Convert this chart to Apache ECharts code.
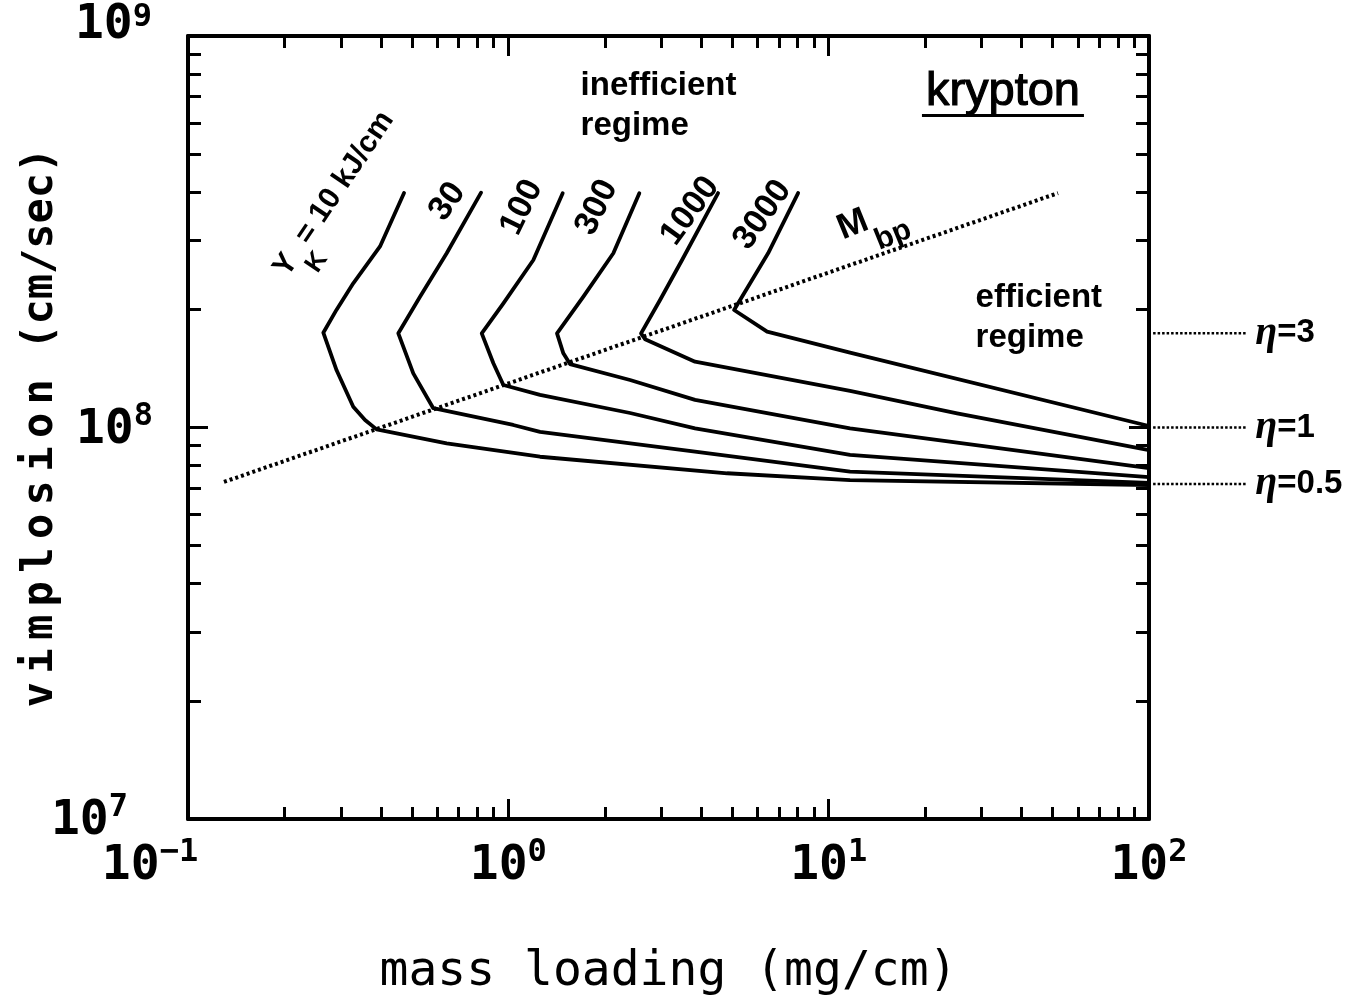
<!DOCTYPE html>
<html>
<head>
<meta charset="utf-8">
<script src="https://cdn.jsdelivr.net/npm/echarts@6/dist/echarts.min.js"></script>
<style>html,body{margin:0;padding:0;background:#fff}#c{width:1364px;height:997px}</style>
</head>
<body>
<div id="c"></div>
<script>
// ---------- data ----------
const xMajorTicks = [0.1, 1, 10, 100];
const xMinorTicks = [0.2,0.3,0.4,0.5,0.6,0.7,0.8,0.9,2,3,4,5,6,7,8,9,20,30,40,50,60,70,80,90];
const yMajorTicks = [1e7, 1e8, 1e9];
const yMinorTicks = [2e7,3e7,4e7,5e7,6e7,7e7,8e7,9e7,2e8,3e8,4e8,5e8,6e8,7e8,8e8,9e8];

const curveNames = ['10', '30', '100', '300', '1000', '3000'];
const curve10 = [[0.4725,3.97e8],[0.3976,2.90e8],[0.328,2.335e8],[0.291,2.0e8],[0.2645,1.746e8],[0.291,1.40e8],[0.328,1.13e8],[0.357,1.045e8],[0.388,9.89e7],[0.642,9.11e7],[1.256,8.42e7],[4.82,7.64e7],[11.66,7.34e7],[100,7.13e7]];
const curve30 = [[0.822,3.98e8],[0.642,2.786e8],[0.530,2.159e8],[0.4535,1.740e8],[0.505,1.375e8],[0.583,1.12e8],[1.036,1.015e8],[1.256,9.75e7],[3.827,8.68e7],[11.66,7.71e7],[100,7.22e7]];
const curve100 = [[1.478,3.965e8],[1.197,2.678e8],[0.965,2.076e8],[0.826,1.740e8],[0.898,1.459e8],[0.965,1.284e8],[1.256,1.211e8],[2.399,1.089e8],[3.827,9.95e7],[11.66,8.51e7],[100,7.47e7]];
const curve300 = [[2.564,3.965e8],[2.127,2.786e8],[1.715,2.159e8],[1.419,1.740e8],[1.485,1.547e8],[1.558,1.452e8],[2.399,1.322e8],[3.827,1.176e8],[11.66,9.95e7],[100,7.87e7]];
const curve1000 = [[4.516,3.97e8],[3.486,2.678e8],[2.976,2.117e8],[2.596,1.740e8],[2.672,1.68e8],[3.827,1.473e8],[11.66,1.24e8],[25.17,1.087e8],[100,8.76e7]];
const curve3000 = [[8.027,3.97e8],[6.47,2.786e8],[5.067,1.996e8],[6.424,1.757e8],[11.66,1.554e8],[100,1.009e8]];
const curves = [curve10, curve30, curve100, curve300, curve1000, curve3000];

const mbpLine = [[0.1295, 7.26e7], [52.0, 3.97e8]];

const etaNames = ['3', '1', '0.5'];
const etaValues = [1.74e8, 1.0e8, 7.17e7];
const etaLineX = [103, 202];
const etaLabelX = 214;

const xTitle = 'mass loading (mg/cm)';
const yTitleMain = 'vimplosion';
const yTitleUnit = '(cm/sec)';

// annotation anchors (data coordinates)
const curveLabelPos = [[0.3047,3.81e8],[0.6457,3.775e8],[1.101,3.65e8],[1.888,3.65e8],[3.692,3.573e8],[6.218,3.49e8]];
const curveLabelRot = [56, 55, 64, 64, 54, 55];

// ---------- chart ----------
const chart = echarts.init(document.getElementById('c'), null, {renderer: 'canvas'});
const BLACK = '#000';
const MONO = 'DejaVu Sans Mono';
const SANS = 'Liberation Sans';

const tickRich = {
  b: {fontFamily: MONO, fontSize: 48, fontWeight: 'bold', color: BLACK, lineHeight: 54, verticalAlign: 'bottom'},
  s: {fontFamily: MONO, fontSize: 32, fontWeight: 'bold', color: BLACK, lineHeight: 36, verticalAlign: 'top'},
  b9: {fontFamily: MONO, fontSize: 48, fontWeight: 'bold', color: BLACK, lineHeight: 54, verticalAlign: 'top'},
  s9: {fontFamily: MONO, fontSize: 32, fontWeight: 'bold', color: BLACK, lineHeight: 36, verticalAlign: 'top'},
  p9: {width: 1, fontSize: 10, lineHeight: 68},
  p1: {width: 76, fontSize: 10},
  p7: {width: 25, fontSize: 10}
};
function expOf(v) { return Math.round(Math.log10(v)); }
function expStr(e) { return e < 0 ? '\u2212' + (-e) : String(e); }
function xTickFmt(v) {
  const e = expOf(v);
  return '{b|10}{s|' + expStr(e) + '}' + (e === -1 ? '{p1| }' : '');
}
function yTickFmt(v) {
  const e = expOf(v);
  if (e === 9) return '{b9|10}{s9|' + expStr(e) + '}{p9| }';
  return '{b|10}{s|' + expStr(e) + '}' + (e === 7 ? '{p7| }' : '');
}

function helperAxis(position, ticks, len, lineShow, lo, hi) {
  return {
    type: 'value', position: position, min: lo, max: hi,
    axisLine: {show: lineShow, onZero: false, lineStyle: {color: BLACK, width: 4}},
    axisTick: {show: true, inside: true, length: len, lineStyle: {color: BLACK, width: 3},
               customValues: ticks.map(function (t) { return Math.log10(t); })},
    axisLabel: {show: false},
    splitLine: {show: false}
  };
}

const xLo = Math.log10(xMajorTicks[0]), xHi = Math.log10(xMajorTicks[xMajorTicks.length - 1]);
const yLo = Math.log10(yMajorTicks[0]), yHi = Math.log10(yMajorTicks[yMajorTicks.length - 1]);

const yName = yTitleMain.split('').map(function (c) { return '{l|' + c + '}'; }).join('{h|\u2009}') + '{g|  }{u|' + yTitleUnit + '}';

const xAxes = [
  {
    type: 'log', logBase: 10, min: xMajorTicks[0], max: xMajorTicks[xMajorTicks.length - 1], position: 'bottom',
    axisLine: {show: true, onZero: false, lineStyle: {color: BLACK, width: 4}},
    axisTick: {show: false},
    axisLabel: {show: true, margin: 18, formatter: xTickFmt, rich: tickRich},
    splitLine: {show: false},
    name: xTitle, nameLocation: 'middle', nameGap: 130,
    nameTextStyle: {fontFamily: MONO, fontSize: 48, color: BLACK}
  },
  helperAxis('bottom', xMajorTicks, 20, false, xLo, xHi),
  helperAxis('bottom', xMinorTicks, 12, false, xLo, xHi),
  helperAxis('top', xMajorTicks, 20, true, xLo, xHi),
  helperAxis('top', xMinorTicks, 12, false, xLo, xHi)
];
const yAxes = [
  {
    type: 'log', logBase: 10, min: yMajorTicks[0], max: yMajorTicks[yMajorTicks.length - 1], position: 'left',
    axisLine: {show: true, onZero: false, lineStyle: {color: BLACK, width: 4}},
    axisTick: {show: false},
    axisLabel: {show: true, margin: 35, formatter: yTickFmt, rich: tickRich},
    splitLine: {show: false},
    name: yName, nameLocation: 'middle', nameGap: 122, nameRotate: 90, nameMoveOverlap: false,
    nameTextStyle: {
      color: BLACK, fontFamily: MONO, fontSize: 42, fontWeight: 'bold',
      rich: {
        l: {fontFamily: MONO, fontSize: 42, fontWeight: 'bold', color: BLACK, lineHeight: 50},
        h: {fontFamily: 'DejaVu Sans', fontSize: 42, color: BLACK, lineHeight: 50},
        g: {fontFamily: 'DejaVu Sans', fontSize: 42, color: BLACK, lineHeight: 50},
        u: {fontFamily: MONO, fontSize: 42, fontWeight: 'bold', color: BLACK, lineHeight: 50}
      }
    }
  },
  helperAxis('left', yMajorTicks, 20, false, yLo, yHi),
  helperAxis('left', yMinorTicks, 13, false, yLo, yHi),
  helperAxis('right', yMajorTicks, 20, true, yLo, yHi),
  helperAxis('right', yMinorTicks, 13, false, yLo, yHi)
];

const series = [];
curves.forEach(function (c, i) {
  series.push({
    name: curveNames[i], type: 'line', data: c, xAxisIndex: 0, yAxisIndex: 0,
    symbol: 'none', smooth: false, silent: true,
    lineStyle: {color: BLACK, width: 3.8, join: 'round', cap: 'round'}
  });
});
series.push({
  name: 'Mbp', type: 'line', data: mbpLine, xAxisIndex: 0, yAxisIndex: 0,
  symbol: 'none', silent: true,
  lineStyle: {color: BLACK, width: 4, type: [3, 3]}
});
// eta reference lines (outside the frame), drawn through the axes' scales
series.push({
  name: 'eta', type: 'custom', xAxisIndex: 0, yAxisIndex: 0, clip: false, silent: true,
  data: etaValues.map(function (v) { return [etaLineX[0], etaLineX[1], v]; }),
  renderItem: function (params, api) {
    const p0 = api.coord([api.value(0), api.value(2)]);
    const p1 = api.coord([api.value(1), api.value(2)]);
    return {
      type: 'line',
      shape: {x1: p0[0], y1: p0[1], x2: p1[0], y2: p1[1]},
      style: {stroke: BLACK, lineWidth: 2.6, lineDash: [2.5, 2], fill: null}
    };
  }
});

// text annotations
const annot = [];
const curveTexts = ['{m|Y}{s|K}{m|= 10 kJ/cm}', '30', '100', '300', '1000', '3000'];
curveLabelPos.forEach(function (p, i) {
  annot.push({
    value: p,
    label: {
      show: true, position: 'inside', rotate: curveLabelRot[i], formatter: curveTexts[i],
      fontFamily: SANS, fontWeight: 'bold', fontSize: i === 0 ? 30 : 34, color: BLACK,
      rich: {
        m: {fontFamily: SANS, fontWeight: 'bold', fontSize: 30, color: BLACK, lineHeight: 30, verticalAlign: 'top'},
        s: {fontFamily: SANS, fontWeight: 'bold', fontSize: 26, color: BLACK, lineHeight: 52, verticalAlign: 'bottom'}
      }
    }
  });
});
annot.push({
  value: [1.675, 6.63e8],
  label: {show: true, position: 'right', distance: 0, align: 'left', formatter: 'inefficient\nregime',
          fontFamily: SANS, fontWeight: 'bold', fontSize: 33, lineHeight: 40, color: BLACK}
});
annot.push({
  value: [28.64, 1.905e8],
  label: {show: true, position: 'right', distance: 0, align: 'left', formatter: 'efficient\nregime',
          fontFamily: SANS, fontWeight: 'bold', fontSize: 33, lineHeight: 40, color: BLACK}
});
annot.push({
  value: [35.0, 7.13e8],
  label: {show: true, position: 'inside', formatter: '{k|krypton}\n{ul| }',
          rich: {
            k: {fontFamily: SANS, fontSize: 47, color: BLACK, lineHeight: 44, align: 'center',
                textBorderColor: BLACK, textBorderWidth: 1.2},
            ul: {width: 162, height: 3, lineHeight: 3, fontSize: 2, backgroundColor: BLACK, align: 'center'}
          }}
});
annot.push({
  value: [13.86, 3.23e8],
  label: {show: true, position: 'inside', rotate: 22, formatter: '{m|M}{s|bp}',
          rich: {
            m: {fontFamily: SANS, fontWeight: 'bold', fontSize: 36, color: BLACK, lineHeight: 34, verticalAlign: 'top'},
            s: {fontFamily: SANS, fontWeight: 'bold', fontSize: 30, color: BLACK, lineHeight: 58, verticalAlign: 'bottom'}
          }}
});
etaValues.forEach(function (v, i) {
  annot.push({
    value: [etaLabelX, v],
    label: {show: true, position: 'right', distance: 0, align: 'left',
            formatter: '{e|\u03b7}{t|=' + etaNames[i] + '}',
            rich: {
              e: {fontFamily: 'Liberation Serif', fontStyle: 'italic', fontWeight: 'bold', fontSize: 40, color: BLACK},
              t: {fontFamily: SANS, fontWeight: 'bold', fontSize: 33, color: BLACK}
            }}
  });
});
series.push({
  name: 'annotations', type: 'scatter', xAxisIndex: 0, yAxisIndex: 0,
  symbolSize: 1, itemStyle: {color: 'rgba(0,0,0,0)', opacity: 1}, silent: true, clip: false,
  data: annot
});

chart.setOption({
  animation: false,
  backgroundColor: '#fff',
  grid: {left: 188, right: 215, top: 36, bottom: 178, containLabel: false, outerBoundsMode: 'none'},
  xAxis: xAxes,
  yAxis: yAxes,
  series: series
});
</script>
</body>
</html>
